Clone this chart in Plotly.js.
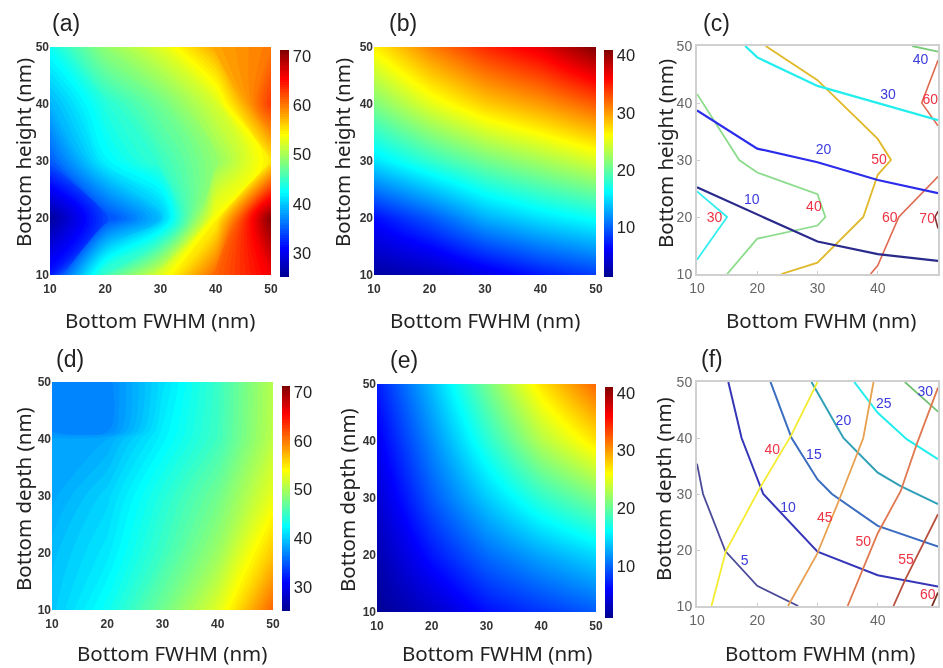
<!DOCTYPE html>
<html><head><meta charset="utf-8">
<script src="https://cdn.plot.ly/plotly-3.0.1.min.js"></script>
<style>html,body{margin:0;padding:0;background:#fff}#g{width:943px;height:668px;filter:blur(0.45px)}</style>
</head><body><div id="g"></div>
<script>
const gridX = [10,20,30,40,50];
const gridY = [10,20,30,40,50];
const gridYD = [10,20,30,40,41.5,50];
const tickVals = [10,20,30,40,50];

// heatmap values, rows follow the y grid
const zA = [[32,45.5,52.5,61,66],[26,34,39.5,54,71],[35,42,45,49,55],[39,44,47.5,52,63],[43,49,52.5,58,60]];
const zB = [[2,3,5,7,8.5],[6.5,9.5,13,15,16.5],[15,18,20.5,22.5,24.5],[21,25,28,30,32.5],[26.5,31,34.5,37,41]];
const zD = [[40,43,47.5,52.5,61],[39.5,41.5,45.2,49.5,56.5],[38.5,40.5,44,47.5,53],[38.4,38.7,42,45.3,51],[37,37,41.8,45.2,50.9],[37,36.8,41,45,50.7]];
const zE = [[1.3,3.5,6.5,8,9.5],[2.5,6.8,10.2,12.5,14.5],[4,9.5,14,17.8,20.7],[5.5,11.5,17.5,23,27],[7,13.5,20.5,27,32]];

// panel (c) contour lines
const c30Lx=[10,15,10], c30Ly=[24.5,20,12.5];
const c40Lx=[10,17,20,30,31.3,30,20,15], c40Ly=[41.6,30,27.8,24,20,18.5,16.2,10];
const c50Lx=[21.4,30,40,42.2,40,37.6,30,24], c50Ly=[50,44,33.7,30,27.4,20,12,10];
const c60aLx=[50,47.3,50], c60aLy=[47.5,40,36];
const c60bLx=[50,43.5,40,38.8], c60bLy=[27.1,20,11.5,10];
const c70Lx=[50,49.5,50], c70Ly=[21,20,18];
const c10x=[10,20,30,40,50], c10y=[25.2,20.5,15.7,13.5,12.3];
const c20x=[10,20,30,40,50], c20y=[38.7,32,29.6,26.5,24.2];
const c30x=[18,20,30,40,50], c30y=[50,48,43,40,37];
const c40x=[45.7,50], c40y=[50,49];
const cLabelX=[19.1,31,41.7,47.1,12.9,29.4,40.2,42,48.7,48.2];
const cLabelY=[22.9,31.6,41.4,47.4,19.7,21.7,30,19.7,40.5,19.5];
const cLabels=['10','20','30','40','30','40','50','60','60','70'];
const cLabelColors=['#3b3bdc','#3b3bdc','#3b3bdc','#3b3bdc','#ee3344','#ee3344','#ee3344','#ee3344','#ee3344','#ee3344'];

// panel (f) contour lines
const f5x=[10,11,14.7,20,26.8], f5y=[35.4,30,19.8,13.6,10];
const f10x=[15.2,17.4,21,30,40,50], f10y=[50,40,30,19.7,15.5,13.5];
const f15x=[22.2,25.7,30,32.4,40,50], f15y=[50,40,32.6,30,24.3,20.6];
const f20x=[29,34.3,40,43.8,50], f20y=[50,40,33.8,31.4,28.2];
const f25x=[36.1,40,44.8,50], f25y=[50,44.5,39.8,36.2];
const f30x=[44.5,50], f30y=[50,44.7];
const f40Lx=[12.4,14.8,20.4,25.7,30], f40Ly=[10,19.8,31,40.6,50];
const f45Lx=[25.1,29.9,33.5,37.6,39.3], f45Ly=[10,19.2,28.7,40,50];
const f50Lx=[35,40,43.8,46.5,50], f50Ly=[10,23,30.5,39,49];
const f55Lx=[42.6,44.6,50], f55Ly=[10,14.8,26.4];
const f60Lx=[49,50], f60Ly=[10,12.4];
const fLabelX=[17.9,25.1,29.4,34.3,41,47.9,22.5,31.2,37.6,44.7,48.3];
const fLabelY=[17.9,27.4,36.8,42.9,45.9,48.1,37.7,25.7,21.3,18.2,11.8];
const fLabels=['5','10','15','20','25','30','40','45','50','55','60'];
const fLabelColors=['#3b3bdc','#3b3bdc','#3b3bdc','#3b3bdc','#3b3bdc','#3b3bdc','#ee3344','#ee3344','#ee3344','#ee3344','#ee3344'];

const xTitle='Bottom FWHM (nm)', yTitleH='Bottom height (nm)', yTitleD='Bottom depth (nm)';

const jet=[[0,'#00008f'],[0.125,'#0000ff'],[0.375,'#00ffff'],[0.625,'#ffff00'],[0.875,'#ff0000'],[1,'#800000']];
const W=943,H=668;
const TXT='Liberation Sans', TITLE='Noto Sans';
const traces=[];
const layout={width:W,height:H,margin:{l:0,r:0,t:0,b:0},paper_bgcolor:'#fff',plot_bgcolor:'#fff',showlegend:false,annotations:[]};

function addAxes(i,box,kind){
  const sfx=i===1?'':String(i);
  const heat=kind==='heat';
  const common={range:[10,50],tickmode:'array',tickvals:tickVals,ticktext:tickVals.map(String),
    showgrid:false,zeroline:false,ticklen:heat?0:3,ticks:heat?'':'inside',tickcolor:'#ccc',
    showline:!heat,linecolor:'#d0d0d0',linewidth:2,mirror:heat?false:true,
    tickfont:{family:TXT,size:heat?12:14,color:heat?'#333':'#666',weight:heat?'bold':'normal'}};
  layout['xaxis'+sfx]=Object.assign({},common,{anchor:'y'+sfx,domain:[box[0]/W,box[1]/W],ticklabelstandoff:heat?5:0});
  layout['yaxis'+sfx]=Object.assign({},common,{anchor:'x'+sfx,domain:[1-box[3]/H,1-box[2]/H]});
}
function colorbar(tv,cb){
  return {x:cb[0]/W,xanchor:'left',y:1-cb[2]/H,yanchor:'top',len:cb[3]-cb[2],lenmode:'pixels',thickness:cb[1]-cb[0],thicknessmode:'pixels',
      xpad:0,ypad:0,outlinewidth:0,ticks:'',tickmode:'array',tickvals:tv,ticktext:tv.map(String),tickfont:{family:TXT,size:16.5,color:'#222'}};
}
function addHeat(i,z,zmin,zmax,tv,cb){
  const sfx=i===1?'':String(i);
  traces.push({type:'heatmap',x:gridX,y:gridY,z:z,zmin:zmin,zmax:zmax,zsmooth:'best',colorscale:jet,xaxis:'x'+sfx,yaxis:'y'+sfx,colorbar:colorbar(tv,cb)});
}
function addFilled(i,y,z,zmin,zmax,tv,cb){
  const sfx=i===1?'':String(i);
  traces.push({type:'contour',x:gridX,y:y,z:z,zmin:zmin,zmax:zmax,autocontour:false,colorscale:jet,xaxis:'x'+sfx,yaxis:'y'+sfx,
    contours:{start:zmin,end:zmax,size:0.5,coloring:'fill',showlines:false},line:{width:0},colorbar:colorbar(tv,cb)});
}
function addLine(i,x,y,color,width){
  const sfx=i===1?'':String(i);
  traces.push({type:'scatter',mode:'lines',x:x,y:y,xaxis:'x'+sfx,yaxis:'y'+sfx,line:{color:color,width:width},hoverinfo:'skip'});
}
function addLabels(i,x,y,t,colors){
  const sfx=i===1?'':String(i);
  traces.push({type:'scatter',mode:'text',x:x,y:y,text:t,textposition:'middle center',xaxis:'x'+sfx,yaxis:'y'+sfx,
    textfont:{family:TXT,size:14,color:colors},cliponaxis:false,hoverinfo:'skip'});
}
function note(t,x,y,size,family,angle){
  layout.annotations.push({text:t,xref:'paper',yref:'paper',x:x/W,y:1-y/H,xanchor:'center',yanchor:'middle',showarrow:false,textangle:angle||0,
    font:{family:family,size:size,color:'#222'}});
}

addAxes(1,[50,271,47,275],'heat');
addAxes(2,[374,596,47,275],'heat');
addAxes(3,[697,938,46,274],'line');
addAxes(4,[52,273,382,610],'heat');
addAxes(5,[377,596,384,612],'heat');
addAxes(6,[697,938,382,606],'line');

addFilled(1,gridY,zA,25.2,71.2,[30,40,50,60,70],[280,289,50,277]);
addHeat(2,zB,1.2,41,[10,20,30,40],[604,613,50,277]);
addFilled(4,gridYD,zD,25.2,71.2,[30,40,50,60,70],[282,290,386,611]);
addHeat(5,zE,1,41,[10,20,30,40],[605,613,387,618]);

addLine(3,c30Lx,c30Ly,'#33eeee',1.8);
addLine(3,c40Lx,c40Ly,'#8cdc8c',1.8);
addLine(3,c50Lx,c50Ly,'#e0b828',1.8);
addLine(3,c60aLx,c60aLy,'#e06a50',1.6);
addLine(3,c60bLx,c60bLy,'#e06a50',1.6);
addLine(3,c70Lx,c70Ly,'#803030',1.6);
addLine(3,c10x,c10y,'#2a2a8c',2.2);
addLine(3,c20x,c20y,'#2b2bea',2.2);
addLine(3,c30x,c30y,'#22eeee',2.2);
addLine(3,c40x,c40y,'#78cc78',1.8);
addLabels(3,cLabelX,cLabelY,cLabels,cLabelColors);

addLine(6,f5x,f5y,'#4a4a98',1.8);
addLine(6,f10x,f10y,'#3636b8',2);
addLine(6,f15x,f15y,'#3a6cc0',2);
addLine(6,f20x,f20y,'#30a0b8',2);
addLine(6,f25x,f25y,'#22eeee',2);
addLine(6,f30x,f30y,'#70c070',1.8);
addLine(6,f40Lx,f40Ly,'#f4ec30',1.8);
addLine(6,f45Lx,f45Ly,'#e8a050',1.8);
addLine(6,f50Lx,f50Ly,'#e07850',1.8);
addLine(6,f55Lx,f55Ly,'#b85040',1.8);
addLine(6,f60Lx,f60Ly,'#7a3020',1.8);
addLabels(6,fLabelX,fLabelY,fLabels,fLabelColors);

note('(a)',66,23,23,TXT); note('(b)',403,23,23,TXT); note('(c)',716,23,23,TXT);
note('(d)',70,359,23,TXT); note('(e)',404,360,23,TXT); note('(f)',712,359,23,TXT);

note(xTitle,160,320,20.5,TITLE); note(xTitle,485,320,20.5,TITLE); note(xTitle,821,320,20.5,TITLE);
note(xTitle,172,653,20.5,TITLE); note(xTitle,497,653,20.5,TITLE); note(xTitle,820,653,20.5,TITLE);
note(yTitleH,23,153,20.5,TITLE,-90); note(yTitleH,342,153,20.5,TITLE,-90); note(yTitleH,665,154,20.5,TITLE,-90);
note(yTitleD,23,499,20.5,TITLE,-90); note(yTitleD,347,500,20.5,TITLE,-90); note(yTitleD,663,489,20.5,TITLE,-90);

Plotly.newPlot('g',traces,layout,{displayModeBar:false,responsive:false});
</script></body></html>
